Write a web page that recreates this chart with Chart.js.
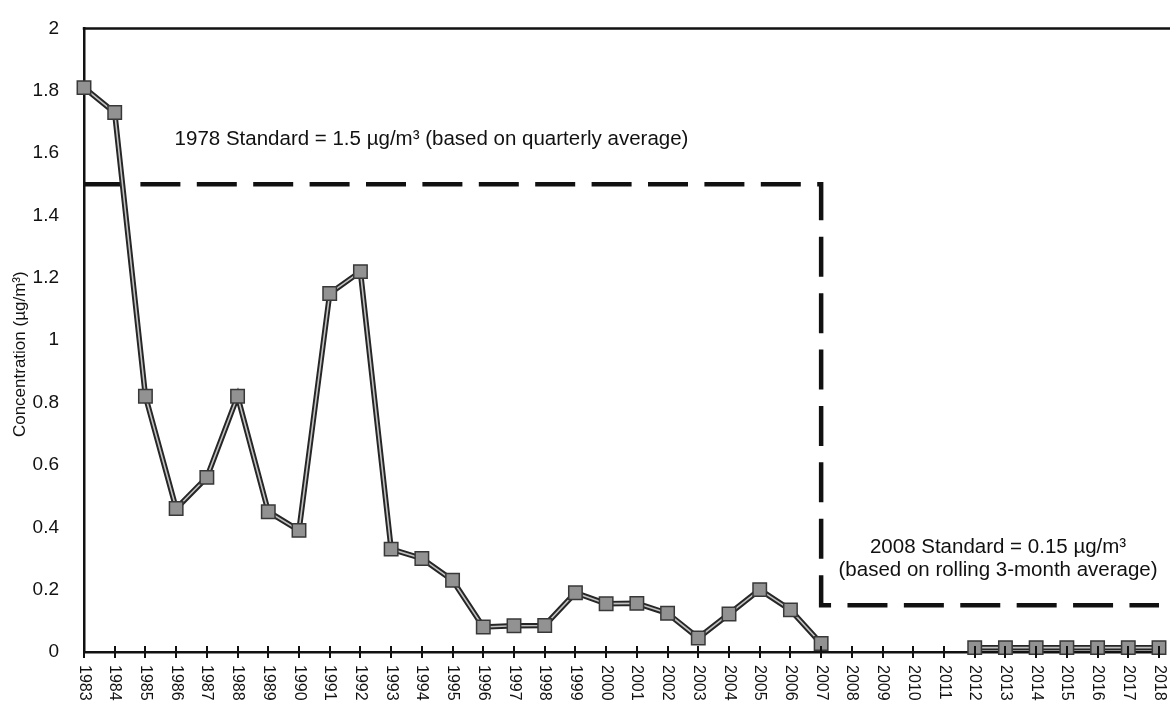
<!DOCTYPE html>
<html>
<head>
<meta charset="utf-8">
<script src="https://cdn.jsdelivr.net/npm/chart.js@4.4.1/dist/chart.umd.min.js"></script>
<style>
  html, body { margin: 0; padding: 0; background: #fff; overflow: hidden; }
  #wrap { width: 1170px; height: 702px; position: relative; }
</style>
</head>
<body>
<div id="wrap"><canvas id="chart"></canvas></div>
<script>
// Annual maximum lead concentrations (µg/m³), one value per year; null = no monitoring
const years = [1983, 1984, 1985, 1986, 1987, 1988, 1989, 1990, 1991, 1992, 1993, 1994,
               1995, 1996, 1997, 1998, 1999, 2000, 2001, 2002, 2003, 2004, 2005, 2006,
               2007, 2008, 2009, 2010, 2011, 2012, 2013, 2014, 2015, 2016, 2017, 2018];
const yearLabels = ['1983', '1984', '1985', '1986', '1987', '1988', '1989', '1990', '1991',
                    '1992', '1993', '1994', '1995', '1996', '1997', '1998', '1999', '2000',
                    '2001', '2002', '2003', '2004', '2005', '2006', '2007', '2008', '2009',
                    '2010', '2011', '2012', '2013', '2014', '2015', '2016', '2017', '2018'];
const concentration = [1.81, 1.73, 0.82, 0.46, 0.56, 0.82, 0.45, 0.39, 1.15, 1.22, 0.33, 0.30,
                       0.23, 0.08, 0.084, 0.085, 0.19, 0.155, 0.156, 0.124, 0.045, 0.122, 0.20, 0.135,
                       0.027, null, null, null, null, 0.014, 0.014, 0.014, 0.014, 0.014, 0.014, 0.014];

// NAAQS step: 1978 standard until 2007, then the 2008 standard
const standardYears = [1983, 2007, 2007, 2018];
const standardValues = [1.5, 1.5, 0.15, 0.15];

const FONT = '"Liberation Sans", Arial, Helvetica, sans-serif';
const INK = '#111111';
const AXIS_TITLE = 'Concentration (µg/m³)';

const series = years.map((yr, i) => ({ x: yr, y: concentration[i] }));
const standard = standardYears.map((yr, i) => ({ x: yr, y: standardValues[i] }));

// Text notes placed in data coordinates
const notes = [
  { lines: ['1978 Standard = 1.5 µg/m³ (based on quarterly average)'], x: 1985.95, y: [1.645], align: 'left' },
  { lines: ['2008 Standard = 0.15 µg/m³', '(based on rolling 3-month average)'], x: 2012.76, y: [0.337, 0.261], align: 'center' }
];

const framePlugin = {
  id: 'frame',
  afterDraw(chart) {
    const { ctx, chartArea: area } = chart;
    const xs = chart.scales.x, ys = chart.scales.y;
    ctx.save();
    // top edge of the plot frame
    ctx.strokeStyle = INK;
    ctx.lineWidth = 2.5;
    ctx.beginPath();
    ctx.moveTo(area.left - 1.25, area.top);
    ctx.lineTo(chart.width, area.top);
    ctx.stroke();

    // year tick marks crossing the axis
    ctx.lineWidth = 2;
    ctx.beginPath();
    years.forEach(yr => {
      const px = Math.round(xs.getPixelForValue(yr));
      ctx.moveTo(px, area.bottom - 6);
      ctx.lineTo(px, area.bottom + 6);
    });
    ctx.stroke();

    // year labels, running top to bottom
    ctx.fillStyle = INK;
    ctx.font = '16px ' + FONT;
    ctx.textAlign = 'left';
    ctx.textBaseline = 'middle';
    years.forEach((yr, i) => {
      const px = xs.getPixelForValue(yr);
      ctx.save();
      ctx.translate(px, area.bottom + 13);
      ctx.rotate(Math.PI / 2);
      ctx.fillText(yearLabels[i], 0, 0);
      ctx.restore();
    });

    // vertical axis title
    ctx.save();
    ctx.font = '17px ' + FONT;
    ctx.textAlign = 'center';
    ctx.translate(20, ys.getPixelForValue(0.955));
    ctx.rotate(-Math.PI / 2);
    ctx.fillText(AXIS_TITLE, 0, 0);
    ctx.restore();

    // standard notes
    ctx.font = '20.5px ' + FONT;
    notes.forEach(n => {
      ctx.textAlign = n.align;
      n.lines.forEach((line, k) => {
        ctx.fillText(line, xs.getPixelForValue(n.x), ys.getPixelForValue(n.y[k]));
      });
    });
    ctx.restore();
  }
};

new Chart(document.getElementById('chart'), {
  type: 'line',
  data: {
    datasets: [
      {
        label: 'Concentration',
        data: series,
        borderColor: '#c2c2c2',
        borderWidth: 1.6,
        pointStyle: 'rect',
        pointRadius: 9.5,
        pointHoverRadius: 9.5,
        pointBackgroundColor: '#929292',
        pointBorderColor: '#383838',
        pointBorderWidth: 1.5,
        tension: 0,
        spanGaps: false,
        clip: false
      },
      {
        label: 'Concentration outline',
        data: series,
        borderColor: '#262626',
        borderWidth: 5.5,
        pointRadius: 0,
        tension: 0,
        spanGaps: false,
        clip: false
      },
      {
        label: 'Standard',
        data: standard,
        borderColor: INK,
        borderWidth: 4.5,
        borderDash: [40, 16.4],
        pointRadius: 0,
        tension: 0,
        clip: false
      }
    ]
  },
  options: {
    responsive: true,
    maintainAspectRatio: false,
    animation: false,
    layout: { padding: { top: 18, right: 3, left: 0, bottom: 0 } },
    plugins: {
      legend: { display: false },
      tooltip: { enabled: false }
    },
    scales: {
      x: {
        type: 'linear',
        min: 1983,
        max: 2018,
        ticks: { stepSize: 1, display: false },
        grid: { display: false },
        border: { display: true, color: INK, width: 2.5 },
        afterFit(scale) { scale.height = 50; }
      },
      y: {
        min: 0,
        max: 2,
        ticks: {
          stepSize: 0.2,
          color: INK,
          font: { family: FONT, size: 19 },
          padding: 17,
          callback: v => String(Number(v.toFixed(1)))
        },
        grid: { display: false },
        border: { display: true, color: INK, width: 2.5 },
        afterFit(scale) { scale.width = 84; }
      }
    }
  },
  plugins: [framePlugin]
});
</script>
</body>
</html>
